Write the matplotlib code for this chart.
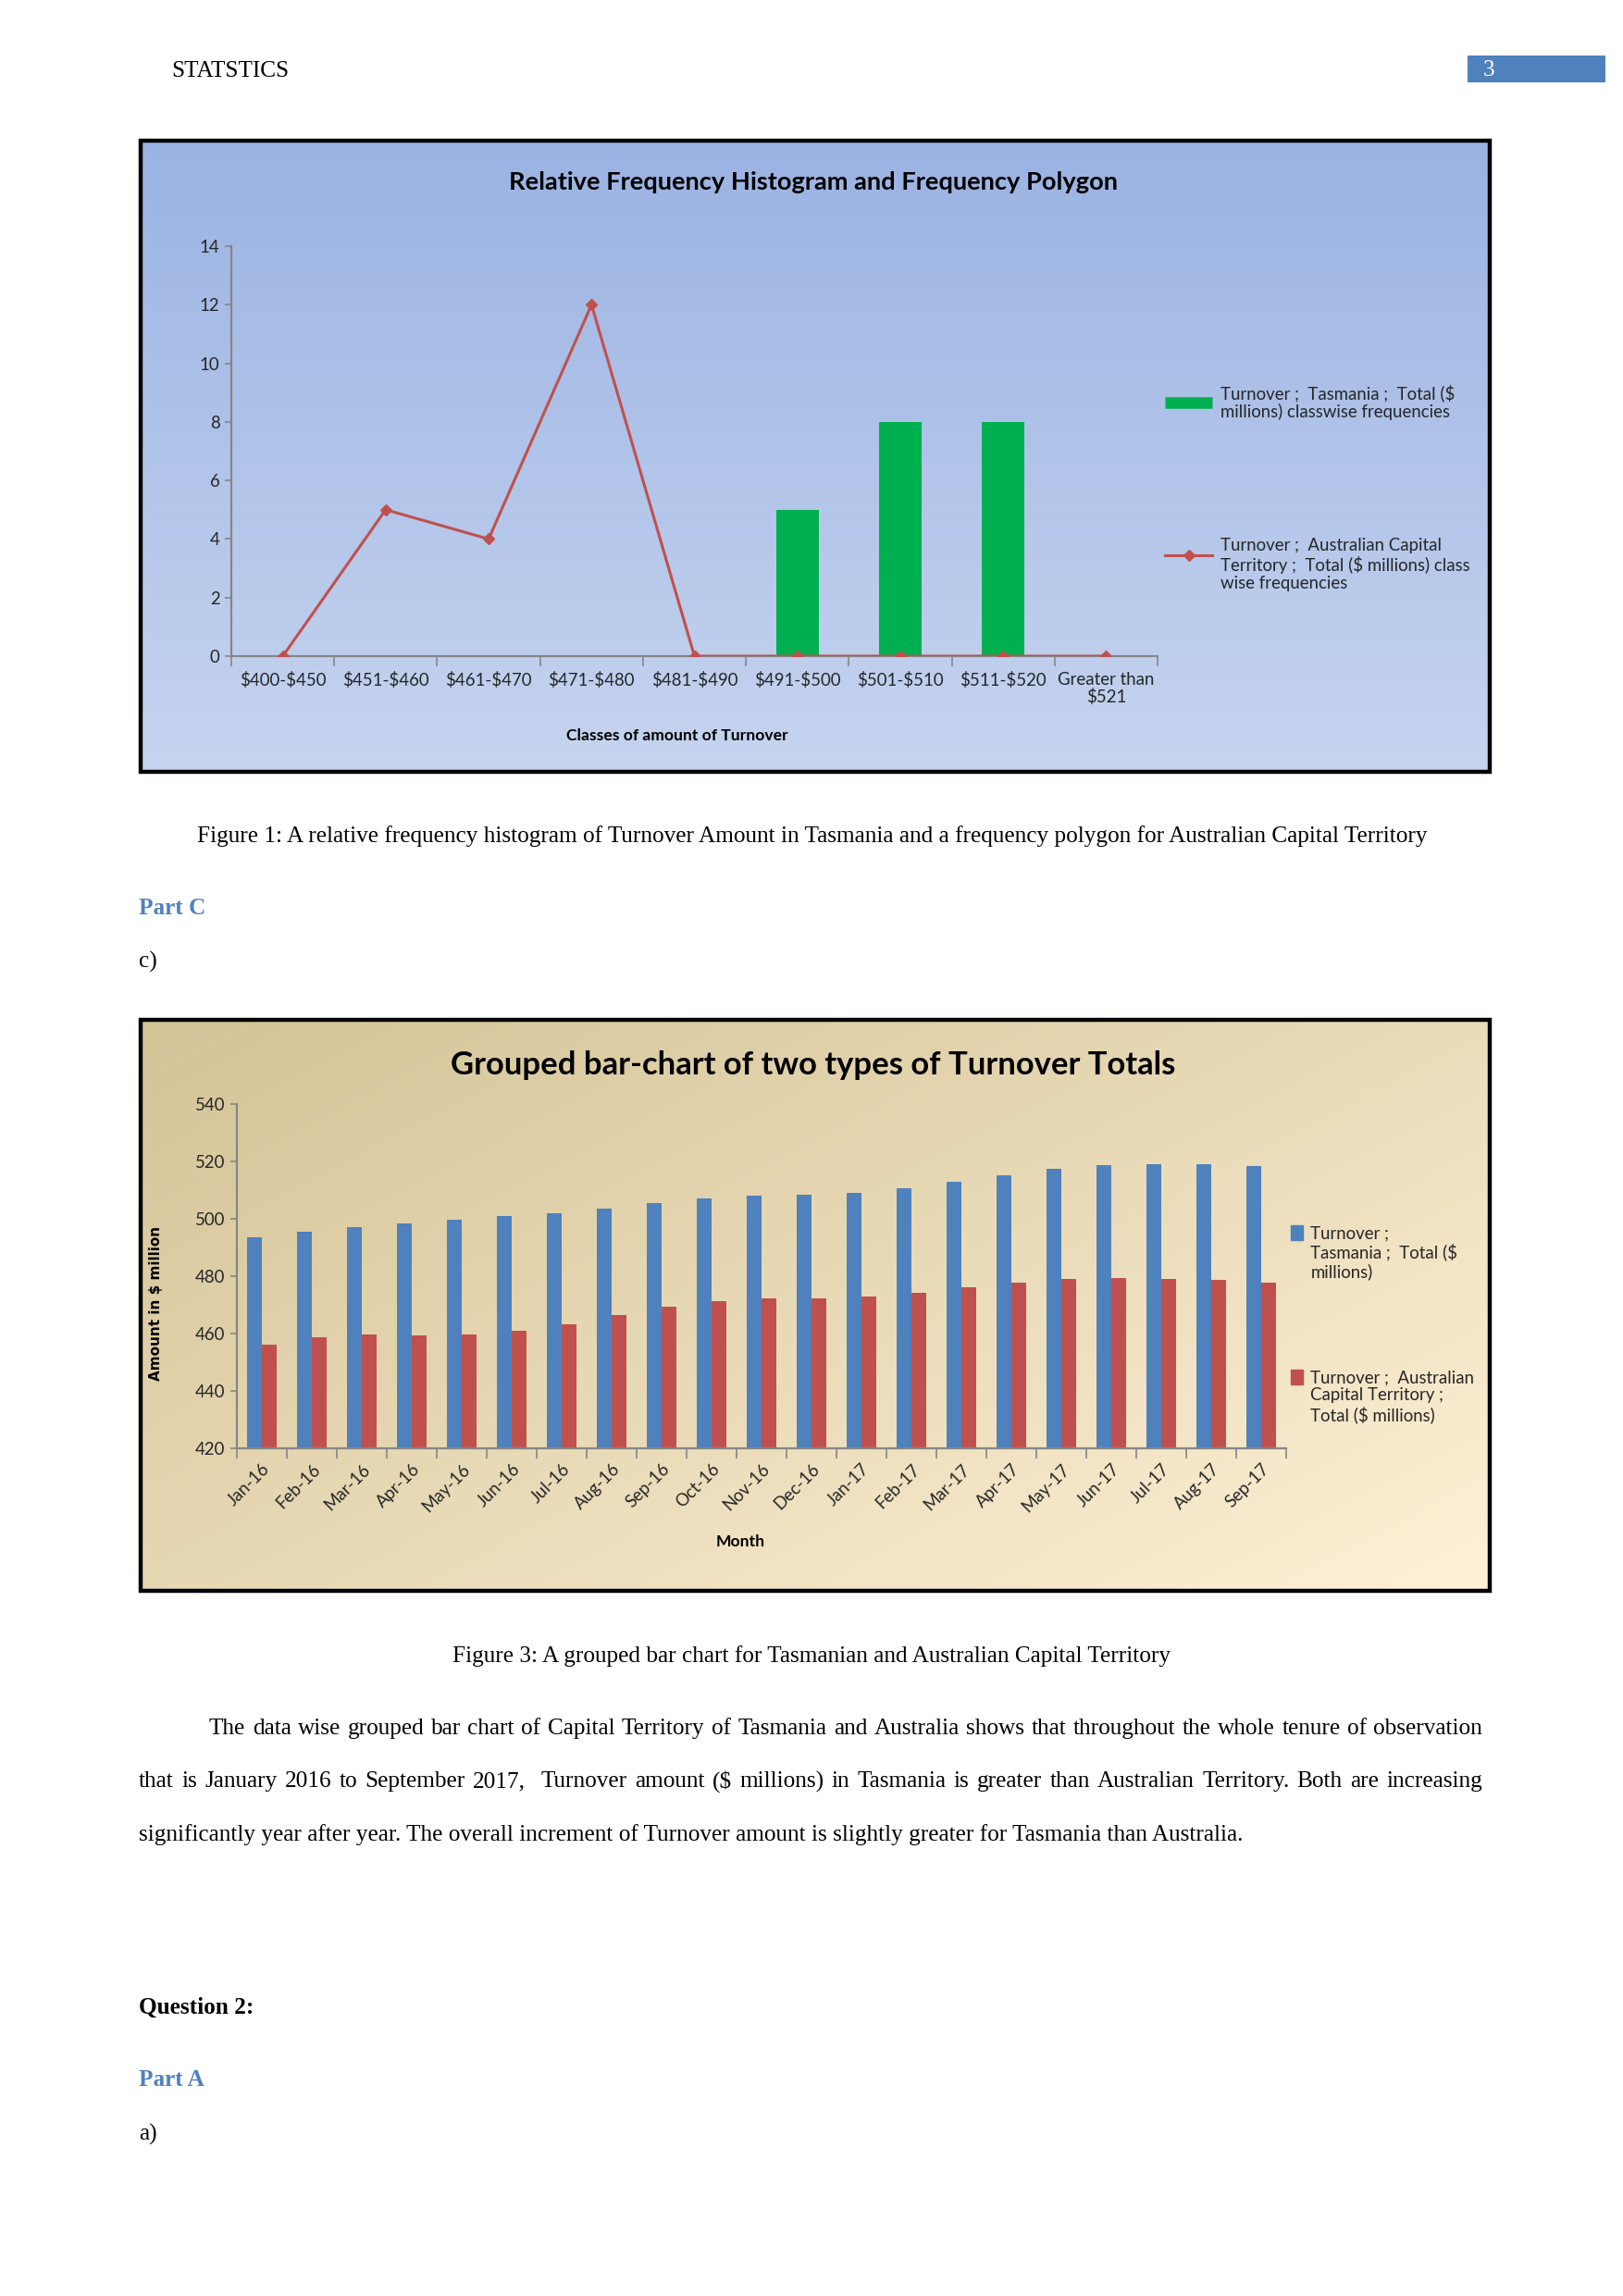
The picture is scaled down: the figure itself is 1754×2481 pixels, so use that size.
import matplotlib
matplotlib.use("Agg")
import matplotlib.pyplot as plt
import matplotlib.colors as mcolors
from matplotlib.patches import Rectangle, Patch
from matplotlib.lines import Line2D
from matplotlib.legend_handler import HandlerLine2D
import numpy as np

plt.rcParams["text.parse_math"] = False

W, H = 1754, 2481

# ── data ────────────────────────────────────────────────────────────────────
CLASSES = ["$400-$450", "$451-$460", "$461-$470", "$471-$480", "$481-$490",
           "$491-$500", "$501-$510", "$511-$520", "Greater than\n$521"]
TAS_FREQ = [0, 0, 0, 0, 0, 5, 8, 8, 0]
ACT_FREQ = [0, 5, 4, 12, 0, 0, 0, 0, 0]

MONTHS = ["Jan-16", "Feb-16", "Mar-16", "Apr-16", "May-16", "Jun-16", "Jul-16",
          "Aug-16", "Sep-16", "Oct-16", "Nov-16", "Dec-16", "Jan-17", "Feb-17",
          "Mar-17", "Apr-17", "May-17", "Jun-17", "Jul-17", "Aug-17", "Sep-17"]
TAS_TURNOVER = [493.6, 495.5, 497.2, 498.5, 499.7, 501.0, 502.0, 503.6, 505.6,
                507.2, 508.1, 508.5, 509.1, 510.7, 513.0, 515.2, 517.5, 518.8,
                519.1, 519.1, 518.5]
ACT_TURNOVER = [456.1, 458.7, 459.7, 459.4, 459.7, 461.0, 463.3, 466.5, 469.4,
                471.3, 472.3, 472.3, 472.9, 474.2, 476.2, 477.8, 479.1, 479.4,
                479.1, 478.8, 477.8]

LEG_TAS1 = "Turnover ;  Tasmania ;  Total ($\nmillions) classwise frequencies"
LEG_ACT1 = "Turnover ;  Australian Capital\nTerritory ;  Total ($ millions) class\nwise frequencies"
LEG_TAS2 = "Turnover ;\nTasmania ;  Total ($\nmillions)"
LEG_ACT2 = "Turnover ;  Australian\nCapital Territory ;\nTotal ($ millions)"

PARA = [
    "The data wise grouped bar chart of Capital Territory of Tasmania and Australia shows that throughout the whole tenure of observation",
    "that is January 2016 to September 2017,  Turnover amount ($ millions) in Tasmania is greater than Australian Territory. Both are increasing",
    "significantly year after year. The overall increment of Turnover amount is slightly greater for Tasmania than Australia.",
]

SERIF = "Liberation Serif"
SANS = "Lato"
BLUE = "#4F81BD"
RED = "#C0504D"
GREEN = "#00B050"
AXIS_GREY = "#868686"
TXT = "#262626"
BODY = 18.2
SMALL = 13.4


def fx(x):
    return x / W


def fy(y):
    return 1 - y / H


def box(x0, y0, x1, y1):
    return [fx(x0), fy(y1), (x1 - x0) / W, (y1 - y0) / H]


class RaisedLineHandler(HandlerLine2D):
    """Line handle drawn a bit above the centre of a multi-line label."""

    def __init__(self, raise_pt=0.0, **kw):
        super().__init__(**kw)
        self.raise_pt = raise_pt

    def create_artists(self, legend, orig_handle, xdescent, ydescent, width,
                       height, fontsize, trans):
        return super().create_artists(legend, orig_handle, xdescent,
                                      ydescent - 2 * self.raise_pt, width,
                                      height, fontsize, trans)


def gradient_panel(fig, rect, c0, c1, diagonal=False):
    ax = fig.add_axes(box(*rect), zorder=0)
    n = 256
    if diagonal:
        u, v = np.meshgrid(np.linspace(0, 1, n), np.linspace(0, 1, n))
        t = 0.55 * u + 0.45 * v
    else:
        t = np.linspace(0, 1, n)[:, None] * np.ones((1, 2))
    a = np.array(mcolors.to_rgb(c0))
    b = np.array(mcolors.to_rgb(c1))
    img = a + (b - a) * t[..., None]
    ax.imshow(img, aspect="auto", interpolation="bilinear")
    ax.set_axis_off()
    ax.add_patch(Rectangle((0, 0), 1, 1, transform=ax.transAxes, fill=False,
                           ec="black", lw=3.2, clip_on=False))
    return ax


def style_axes(ax):
    for s in ("top", "right"):
        ax.spines[s].set_visible(False)
    for s in ("left", "bottom"):
        ax.spines[s].set_color(AXIS_GREY)
        ax.spines[s].set_linewidth(1.6)
    ax.set_facecolor("none")
    ax.tick_params(axis="y", length=5, width=1.2, color=AXIS_GREY, pad=4,
                   labelsize=SMALL, labelcolor=TXT)
    ax.tick_params(axis="x", which="major", length=0, labelsize=SMALL,
                   labelcolor=TXT)
    ax.tick_params(axis="x", which="minor", length=8, width=1.2,
                   color=AXIS_GREY)
    for lbl in ax.get_xticklabels() + ax.get_yticklabels():
        lbl.set_fontfamily(SANS)


def legend_entry(fig, handle, label, x, y_top, align=None, **kw):
    opts = dict(loc="upper left", frameon=False, handletextpad=0.45,
                borderpad=0, borderaxespad=0, labelcolor=TXT,
                prop={"family": SANS, "size": SMALL})
    opts.update(kw)
    leg = fig.legend([handle], [label], bbox_to_anchor=(fx(x), fy(y_top)), **opts)
    for t in leg.get_texts():
        t.set_linespacing(1.17)
    if align:
        for col in leg._legend_handle_box.get_children():
            for item in col.get_children():
                item.align = align
    return leg


def justified(fig, text, x0, x1, y, **kw):
    words = text.split(" ")
    objs = [fig.text(0, fy(y), w, va="center", ha="left", **kw) for w in words]
    r = fig.canvas.get_renderer()
    widths = [o.get_window_extent(r).width if w else 0 for o, w in zip(objs, words)]
    gap = (x1 - x0 - sum(widths)) / (len(words) - 1)
    x = x0
    for o, w in zip(objs, widths):
        o.set_x(fx(x))
        x += w + gap


fig = plt.figure(figsize=(W / 100, H / 100), dpi=100)
fig.patch.set_facecolor("white")

# ── page header ─────────────────────────────────────────────────────────────
fig.text(fx(185), fy(77), "STATSTICS", family=SERIF, fontsize=BODY, va="center")
fig.patches.append(Rectangle((fx(1586), fy(89)), (1735 - 1586) / W, 29 / H,
                             transform=fig.transFigure, color=BLUE, lw=0))
fig.text(fx(1603), fy(76), "3", family=SERIF, fontsize=BODY, color="white",
         va="center")

# ── chart 1: histogram + polygon ────────────────────────────────────────────
gradient_panel(fig, (152, 152, 1610, 834), "#9BB3E3", "#C6D4EF")
ax1 = fig.add_axes(box(250, 266, 1251, 709), zorder=1)
x1 = np.arange(len(CLASSES))
ax1.bar(x1, TAS_FREQ, width=0.41, color=GREEN, zorder=2)
ax1.plot(x1, ACT_FREQ, color=RED, lw=2.2, marker="D", ms=6, zorder=3)
ax1.set_xlim(-0.5, len(CLASSES) - 0.5)
ax1.set_ylim(0, 14)
ax1.set_yticks(range(0, 15, 2))
ax1.set_xticks(x1)
ax1.set_xticklabels(CLASSES, linespacing=1.1)
ax1.set_xticks(np.arange(-0.5, len(CLASSES)), minor=True)
style_axes(ax1)
ax1.tick_params(axis="x", which="major", pad=12)
fig.text(fx(879), fy(197), "Relative Frequency Histogram and Frequency Polygon",
         family=SANS, fontsize=19.6, fontweight="bold", ha="center", va="center")
fig.text(fx(732), fy(795), "Classes of amount of Turnover", family=SANS,
         fontsize=12.6, fontweight="bold", ha="center", va="center")
legend_entry(fig, Line2D([], [], color=GREEN, lw=9, solid_capstyle="butt"),
             LEG_TAS1, 1259, 415, handlelength=2.75)
act_handle = Line2D([], [], color=RED, lw=2.2, marker="D", ms=6)
legend_entry(fig, act_handle, LEG_ACT1, 1259, 581, handlelength=2.75,
             handler_map={act_handle: RaisedLineHandler(raise_pt=7.8)})

# ── body text between charts ────────────────────────────────────────────────
fig.text(fx(213), fy(904),
         "Figure 1: A relative frequency histogram of Turnover Amount in Tasmania "
         "and a frequency polygon for Australian Capital Territory",
         family=SERIF, fontsize=BODY, va="center")
fig.text(fx(150), fy(981), "Part C", family=SERIF, fontsize=BODY,
         fontweight="bold", color=BLUE, va="center")
fig.text(fx(150), fy(1039), "c)", family=SERIF, fontsize=BODY, va="center")

# ── chart 2: grouped bars ───────────────────────────────────────────────────
gradient_panel(fig, (152, 1102, 1610, 1719), "#D3C397", "#FEF1D6", diagonal=True)
ax2 = fig.add_axes(box(256, 1193, 1390, 1565), zorder=1)
x2 = np.arange(len(MONTHS))
bw = 0.3
ax2.bar(x2 - bw / 2, TAS_TURNOVER, width=bw, color=BLUE, zorder=2)
ax2.bar(x2 + bw / 2, ACT_TURNOVER, width=bw, color=RED, zorder=2)
ax2.set_xlim(-0.5, len(MONTHS) - 0.5)
ax2.set_ylim(420, 540)
ax2.set_yticks(range(420, 541, 20))
ax2.set_xticks(x2)
ax2.set_xticklabels(MONTHS, rotation=45, ha="right", rotation_mode="anchor")
ax2.set_xticks(np.arange(-0.5, len(MONTHS)), minor=True)
style_axes(ax2)
ax2.tick_params(axis="x", which="major", pad=10)
fig.text(fx(879), fy(1151), "Grouped bar-chart of two types of Turnover Totals",
         family=SANS, fontsize=24.9, fontweight="bold", ha="center", va="center")
fig.text(fx(168), fy(1408), "Amount in $ million", family="DejaVu Sans",
         fontsize=11, fontweight="bold", rotation=90, ha="center", va="center")
fig.text(fx(800), fy(1666), "Month", family=SANS, fontsize=12.6,
         fontweight="bold", ha="center", va="center")
legend_entry(fig, Patch(color=BLUE), LEG_TAS2, 1395, 1324, align="top",
             handlelength=0.7, handleheight=0.95)
legend_entry(fig, Patch(color=RED), LEG_ACT2, 1395, 1480, align="top",
             handlelength=0.7, handleheight=0.95)

# ── body text after chart 2 ─────────────────────────────────────────────────
fig.text(fx(877), fy(1790),
         "Figure 3: A grouped bar chart for Tasmanian and Australian Capital Territory",
         family=SERIF, fontsize=BODY, ha="center", va="center")
justified(fig, PARA[0], 226, 1602, 1868, family=SERIF, fontsize=BODY)
justified(fig, PARA[1], 150, 1602, 1925, family=SERIF, fontsize=BODY)
fig.text(fx(150), fy(1983), PARA[2], family=SERIF, fontsize=BODY, va="center")

fig.text(fx(150), fy(2169), "Question 2:", family=SERIF, fontsize=BODY,
         fontweight="bold", va="center")
fig.text(fx(150), fy(2247), "Part A", family=SERIF, fontsize=BODY,
         fontweight="bold", color=BLUE, va="center")
fig.text(fx(150), fy(2306), "a)", family=SERIF, fontsize=BODY, va="center")

fig.savefig("out.png", dpi=100, facecolor="white")
